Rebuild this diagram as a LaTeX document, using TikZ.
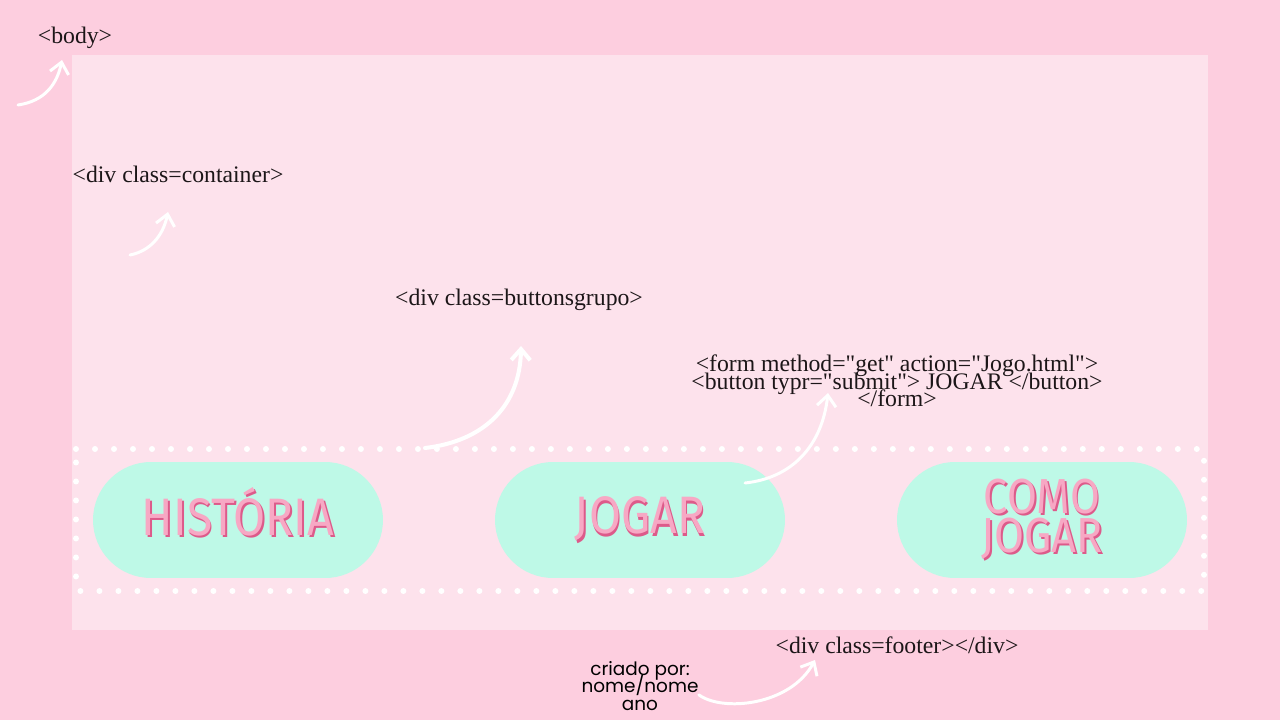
\documentclass[tikz,border=0pt]{standalone}
\usepackage{fontspec}
\setmainfont{Liberation Serif}[Ligatures=TeXOff]
\newfontfamily\btnfont[FakeStretch=0.88]{Fira Sans}
\newfontfamily\handfont{Poppins}
\usetikzlibrary{arrows.meta}
\definecolor{outerpink}{HTML}{FDCEDF}
\definecolor{innerpink}{HTML}{FDE2EC}
\definecolor{mint}{HTML}{BEF9E7}
\definecolor{btnpink}{HTML}{F7A8C4}
\definecolor{btnshade}{HTML}{DD5A8A}
\definecolor{inktext}{HTML}{1C1618}
\newcommand{\tightlines}{\setlength{\lineskiplimit}{-50pt}}
\newcommand{\shadowtext}[1]{\rlap{\kern1pt\raisebox{-1.3pt}{\color{btnshade}#1}}#1}

\begin{document}
\begin{tikzpicture}[x=0.02cm,y=-0.02cm]
\tikzstyle{tag}=[inner sep=0pt,text=inktext,font=\fontsize{13.5}{9.9}\selectfont\tightlines,align=center]
\tikzstyle{btn}=[fill=mint,minimum width=5.8cm,minimum height=2.32cm,rounded corners=1.16cm,inner sep=0pt]
\tikzstyle{btntext}=[text=btnpink,font=\btnfont\fontsize{30}{21}\selectfont\tightlines,align=center,inner sep=0pt]
\tikzstyle{hint}=[white,line width=1.7pt,line cap=round,-{Straight Barb[length=0.22cm,width=0.38cm]}]
\tikzstyle{dots}=[white,line width=0.12cm,line cap=round,dash pattern=on 0pt off 0.38cm]
\useasboundingbox (0,0) rectangle (1280,720);
\fill[outerpink] (0,0) rectangle (1280,720);
\fill[innerpink] (72,55) rectangle (1208,630);
\draw[dots] (76,449) -- (1204,449) -- (1204,591) -- (76,591) -- cycle;

\node[btn] (historia) at (238,520) {};
\node[btn] (jogar) at (640,520) {};
\node[btn] (comojogar) at (1042,520) {};
\node[btntext,yshift=4pt] (historiatxt) at (historia) {\shadowtext{HISTÓRIA}};
\node[btntext] (jogartxt) at (jogar) {\shadowtext{JOGAR}};
\node[btntext,font=\btnfont\fontsize{28}{22}\selectfont\tightlines] (comojogartxt) at (comojogar) {\shadowtext{COMO}\\\shadowtext{JOGAR}};

\node[tag] (body) at (75,38) {<body>};
\node[tag] (container) at (178,174) {<div class=container>};
\node[tag] (grupo) at (519,300) {<div class=buttonsgrupo>};
\node[tag] (form) at (897,381) {<form method="get" action="Jogo.html">\\<button typr="submit"> JOGAR </button>\\</form>};
\node[tag] (footer) at (897,645) {<div class=footer></div>};
\node[font=\handfont\fontsize{10.5}{10.2}\selectfont\tightlines,align=center,inner sep=0pt] (criado) at (640,686) {criado por:\\nome/nome\\ano};

\coordinate (bodytail) at (18,105);
\coordinate (bodyhead) at (62,60);
\coordinate (containertail) at (130,255);
\coordinate (containerhead) at (168,212);
\coordinate (grupotail) at (425,448);
\coordinate (grupohead) at (521,346);
\coordinate (formtail) at (745,483);
\coordinate (formhead) at (828,393);
\coordinate (footerhead) at (815,660);

\draw[hint] (bodytail) .. controls (45,101) and (57,84) .. (bodyhead);
\draw[hint] (containertail) .. controls (150,251) and (163,236) .. (containerhead);
\draw[hint,line width=2.3pt] (grupotail) .. controls (485,441) and (520,405) .. (grupohead);
\draw[hint] (formtail) .. controls (792,478) and (822,446) .. (formhead);
\draw[hint] ([yshift=-5pt]criado.east) .. controls (722,712) and (790,706) .. (footerhead);
\end{tikzpicture}
\end{document}
